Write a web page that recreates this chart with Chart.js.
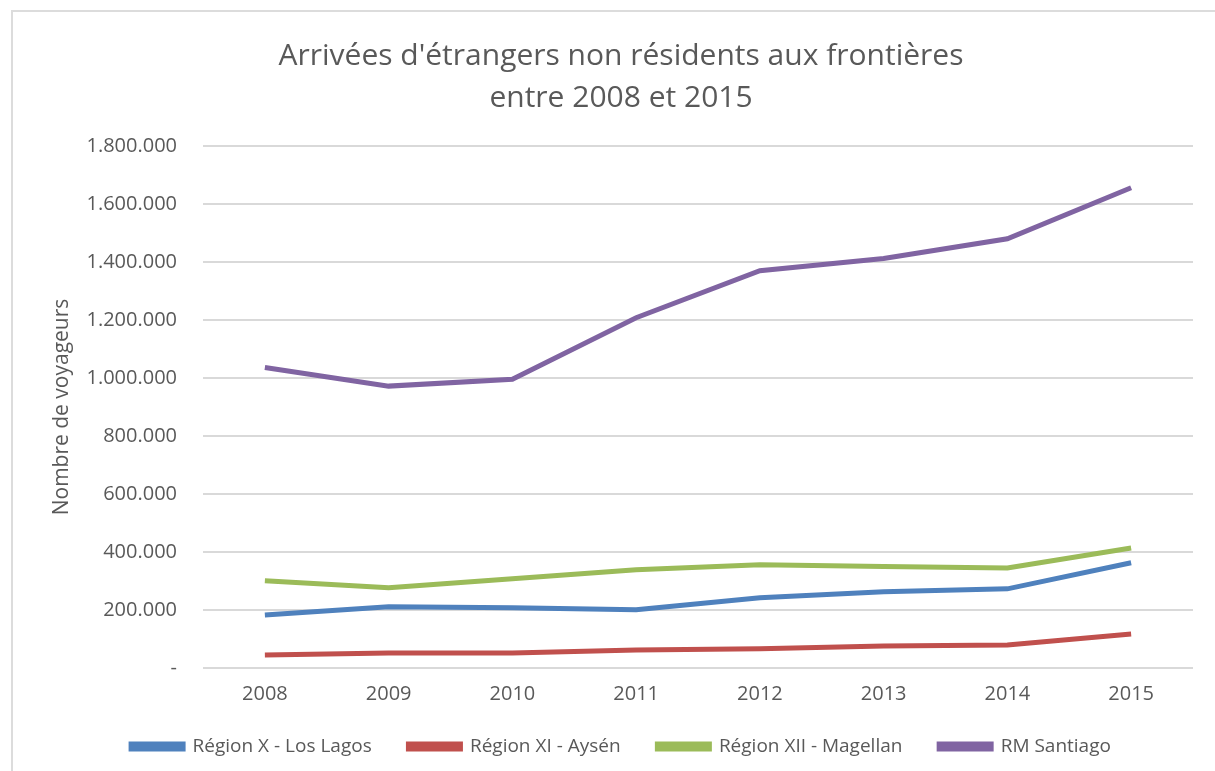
<!DOCTYPE html>
<html>
<head>
<meta charset="utf-8">
<script src="https://cdn.jsdelivr.net/npm/chart.js@4"></script>
<style>
	html, body { margin: 0; padding: 0; background: #fff; overflow: hidden; }
	#frame {
		position: absolute;
		left: 11px;
		top: 10px;
		width: 1240px;
		height: 800px;
		border: 2px solid #dcdcdc;
	}
	#chart { position: absolute; left: 0; top: 0; }
</style>
</head>
<body>
<div id="frame"></div>
<canvas id="chart" width="1215" height="771"></canvas>
<script>
const years = ["2008", "2009", "2010", "2011", "2012", "2013", "2014", "2015"];
const losLagos = [183000, 211000, 208000, 201000, 242000, 263000, 273000, 363000];
const aysen = [45000, 52000, 52000, 62000, 66000, 76000, 79000, 117000];
const magellan = [301000, 277000, 308000, 339000, 356000, 350000, 345000, 414000];
const santiago = [1036000, 972000, 996000, 1208000, 1370000, 1412000, 1480000, 1656000];

const textColor = "#595959";
const grid = "#d9d9d9";
const font = "'Open Sans', sans-serif";

function formatTick(value) {
	if (value === 0) return "-";
	return String(value).replace(/\B(?=(\d{3})+(?!\d))/g, ".");
}

function line(label, data, color) {
	return {
		label,
		data,
		borderColor: color,
		backgroundColor: color,
		borderWidth: 5,
		pointRadius: 0,
		pointHoverRadius: 0,
		tension: 0,
		fill: false,
	};
}

Chart.defaults.font.family = font;
Chart.defaults.color = textColor;

new Chart(document.getElementById("chart"), {
	type: "line",
	data: {
		labels: years,
		datasets: [
			line("Région X - Los Lagos", losLagos, "#4F81BD"),
			line("Région XI - Aysén", aysen, "#C0504D"),
			line("Région XII - Magellan", magellan, "#9BBB59"),
			line("RM Santiago", santiago, "#8064A2"),
		],
	},
	options: {
		responsive: false,
		animation: false,
		layout: { padding: { left: 49, right: 22, top: 35, bottom: 5 } },
		plugins: {
			tooltip: { enabled: false },
			title: {
				display: true,
				text: ["Arrivées d'étrangers non résidents aux frontières", "entre 2008 et 2015"],
				font: { size: 30, weight: "normal", lineHeight: 1.4 },
				color: textColor,
				padding: { top: 0, bottom: 27 },
			},
			legend: {
				position: "bottom",
				labels: {
					boxWidth: 52,
					boxHeight: 5,
					padding: 17,
					font: { size: 19 },
					color: textColor,
					generateLabels(chart) {
						const items = Chart.defaults.plugins.legend.labels.generateLabels(chart);
						// widen the gaps between entries without widening the rows
						items.forEach((item, i) => {
							if (i < items.length - 1) item.text += "    ";
						});
						return items;
					},
				},
			},
		},
		scales: {
			x: {
				offset: true,
				grid: { display: false, drawTicks: false },
				border: { display: false },
				ticks: { padding: 14, font: { size: 20 }, color: textColor },
			},
			y: {
				min: 0,
				max: 1800000,
				grid: { color: grid, lineWidth: 2, drawTicks: false },
				border: { display: false },
				afterFit(scale) {
					scale.width = 154;
				},
				ticks: {
					stepSize: 200000,
					padding: 26,
					font: { size: 20 },
					color: textColor,
					callback: formatTick,
				},
				title: {
					display: true,
					text: "Nombre de voyageurs",
					font: { size: 21 },
					color: textColor,
					padding: { top: 0, bottom: 0 },
				},
			},
		},
	},
});
</script>
</body>
</html>
